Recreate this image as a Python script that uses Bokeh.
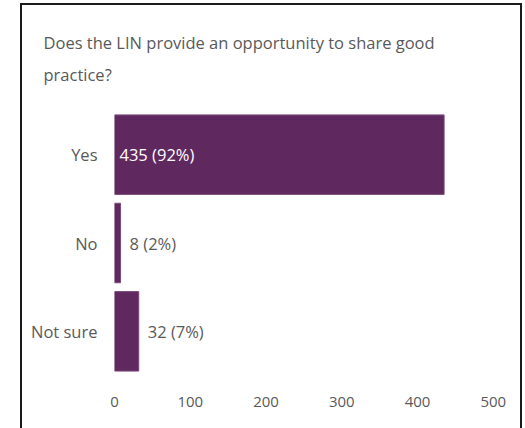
from bokeh.plotting import figure
from bokeh.models import ColumnDataSource, FactorRange, Range1d, FixedTicker, LabelSet
from bokeh.core.properties import value
from bokeh.embed import file_html
from bokeh.resources import INLINE

# ---- data ----
categories = ["Yes", "No", "Not sure"]
counts = [435, 8, 32]
percents = [92, 2, 7]
x_ticks = [0, 100, 200, 300, 400, 500]
title_text = "Does the LIN provide an opportunity to share good\npractice?"

FONT = "Open Sans"
GRAY = "#595959"
PURPLE = "#5F2960"
BORDER = "#1a1a1a"

labels = [f"{c} ({p}%)" for c, p in zip(counts, percents)]
inside = [c > 200 for c in counts]
label_x = [0 if ins else c for c, ins in zip(counts, inside)]
label_off = [5 if ins else 9 for ins in inside]
label_col = ["white" if ins else GRAY for ins in inside]

src = ColumnDataSource(dict(cat=categories, val=counts, lab=labels,
                            lx=label_x, lo=label_off, lc=label_col))

p = figure(width=525, height=428, output_backend="svg", toolbar_location=None,
           y_range=FactorRange(factors=categories[::-1], range_padding=0),
           x_range=Range1d(0, 520),
           min_border_left=114, min_border_right=17, min_border_top=110,
           min_border_bottom=53)

p.title.text = title_text
p.title.text_font = FONT
p.title.text_font_size = "16.5px"
p.title.text_font_style = "normal"
p.title.text_color = GRAY
p.title.align = "left"
p.title.offset = -71
p.title.standoff = 48
p.title.text_line_height = 1.4

p.hbar(y="cat", right="val", left=0, height=0.9, source=src,
       fill_color=PURPLE, line_color="#7a4a7a", line_width=1)

p.add_layout(LabelSet(x="lx", y="cat", text="lab", x_offset="lo", source=src,
                      text_color="lc", text_font=value(FONT), text_font_size="16.5px",
                      text_baseline="middle", text_align="left"))

for ax in (p.xaxis[0], p.yaxis[0]):
    ax.axis_line_color = None
    ax.major_tick_line_color = None
    ax.minor_tick_line_color = None
    ax.major_label_text_font = FONT
    ax.major_label_text_color = GRAY
p.yaxis[0].major_label_text_font_size = "16.5px"
p.xaxis[0].major_label_text_font_size = "15px"
p.xaxis[0].ticker = FixedTicker(ticks=x_ticks)
p.xaxis[0].major_label_standoff = 15
p.yaxis[0].major_label_standoff = 11

p.xgrid.grid_line_color = None
p.ygrid.grid_line_color = None
p.outline_line_color = None
p.border_fill_color = None
p.background_fill_color = None

# outer frame of the chart (drawn as CSS background lines behind the transparent canvas)
p.styles = {
    "background-color": "white",
    "background-image": f"linear-gradient({BORDER},{BORDER}), linear-gradient({BORDER},{BORDER}), linear-gradient({BORDER},{BORDER})",
    "background-size": "2px 440px, 2px 440px, 502px 2px",
    "background-position": "20px 3px, 520px 3px, 20px 3px",
    "background-repeat": "no-repeat",
}

open("out.html", "w").write(file_html(p, INLINE))
